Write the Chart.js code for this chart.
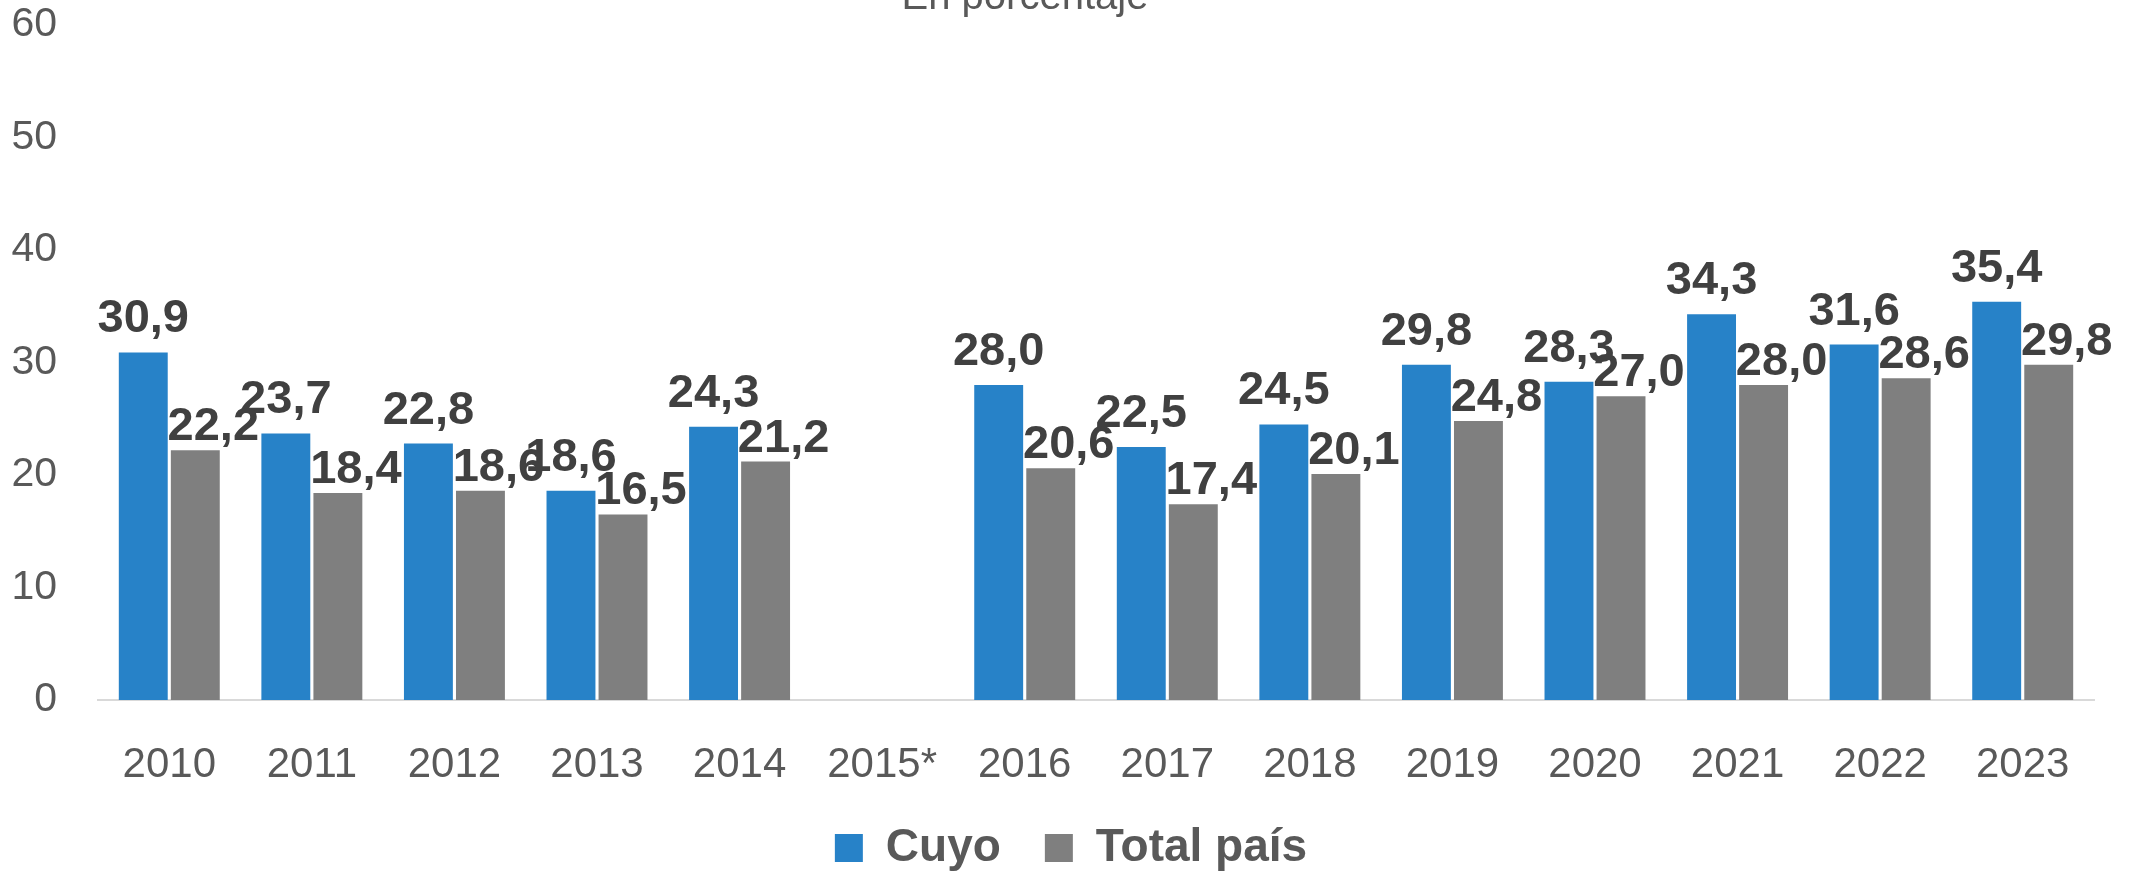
<!DOCTYPE html>
<html>
<head>
<meta charset="utf-8">
<script src="https://cdn.jsdelivr.net/npm/chart.js@4.4.1/dist/chart.umd.min.js"></script>
<style>
    html, body { margin: 0; padding: 0; background: #fff; overflow: hidden; }
    #wrap { position: relative; width: 2143px; height: 881px; }
</style>
</head>
<body>
<div id="wrap"><canvas id="cuyoChart"></canvas></div>
<script>
// data
const years = ['2010', '2011', '2012', '2013', '2014', '2015*', '2016', '2017', '2018', '2019', '2020', '2021', '2022', '2023'];
const cuyo = [30.9, 23.7, 22.8, 18.6, 24.3, null, 28.0, 22.5, 24.5, 29.8, 28.3, 34.3, 31.6, 35.4];
const totalPais = [22.2, 18.4, 18.6, 16.5, 21.2, null, 20.6, 17.4, 20.1, 24.8, 27.0, 28.0, 28.6, 29.8];
const yMin = 0;
const yMax = 60;
const yStep = 10;

const FONT = '"Liberation Sans", Arial, sans-serif';

// subtitle, mostly cut off at the top edge like in the original
const subtitle = {
    id: 'subtitle',
    afterDraw(chart) {
        const ctx = chart.ctx;
        ctx.save();
        ctx.font = '40px ' + FONT;
        ctx.fillStyle = '#595959';
        ctx.textAlign = 'center';
        ctx.textBaseline = 'alphabetic';
        ctx.fillText('En porcentaje', 1025, 9);
        ctx.restore();
    }
};

// nudge the legend a bit right so it sits centred on the whole canvas
const legendShift = {
    id: 'legendShift',
    afterLayout(chart) {
        if (chart.legend) {
            chart.legend.left += 24;
            chart.legend.right += 24;
        }
    }
};

// value labels above bars, comma decimals
const valueLabels = {
    id: 'valueLabels',
    afterDatasetsDraw(chart) {
        const ctx = chart.ctx;
        ctx.save();
        ctx.font = 'bold 47px ' + FONT;
        ctx.fillStyle = '#404040';
        ctx.textAlign = 'center';
        ctx.textBaseline = 'alphabetic';
        chart.data.datasets.forEach((ds, i) => {
            const meta = chart.getDatasetMeta(i);
            meta.data.forEach((bar, j) => {
                const v = ds.data[j];
                if (v == null) return;
                const dx = i === 0 ? 0 : 18;
                const gap = i === 0 ? 20 : 10;
                ctx.fillText(v.toFixed(1).replace('.', ','), bar.x + dx, bar.y - gap);
            });
        });
        ctx.restore();
    }
};

const ctx = document.getElementById('cuyoChart').getContext('2d');
const cuyoChart = new Chart(ctx, {
    type: 'bar',
    data: {
        labels: years,
        datasets: [{
            label: 'Cuyo',
            data: cuyo,
            backgroundColor: '#2782C8',
            categoryPercentage: 0.73,
            barPercentage: 0.94
        }, {
            label: 'Total país',
            data: totalPais,
            backgroundColor: '#7F7F7F',
            categoryPercentage: 0.73,
            barPercentage: 0.94
        }]
    },
    options: {
        responsive: true,
        maintainAspectRatio: false,
        animation: false,
        devicePixelRatio: 1,
        layout: {
            padding: { top: 25, right: 49, left: 0, bottom: 0 }
        },
        plugins: {
            legend: {
                position: 'bottom',
                labels: {
                    boxWidth: 28,
                    boxHeight: 28,
                    padding: 44,
                    color: '#595959',
                    font: { family: FONT, size: 46, weight: 'bold' }
                }
            },
            tooltip: { enabled: false },
            title: { display: false }
        },
        scales: {
            x: {
                grid: { display: false, drawTicks: false },
                border: { display: true, color: '#D9D9D9', width: 2 },
                ticks: {
                    color: '#595959',
                    padding: 40,
                    maxRotation: 0,
                    autoSkip: false,
                    font: { family: FONT, size: 42 }
                },
                afterFit: function(scale) {
                    scale.height = 81;
                }
            },
            y: {
                min: yMin,
                max: yMax,
                grid: { display: false, drawTicks: false },
                border: { display: false },
                ticks: {
                    stepSize: yStep,
                    color: '#595959',
                    padding: 41,
                    font: { family: FONT, size: 41 }
                },
                afterFit: function(scale) {
                    scale.width = 98;
                    scale.paddingTop = 0;
                    scale.paddingBottom = 0;
                }
            }
        }
    },
    plugins: [valueLabels, subtitle, legendShift]
});
</script>
</body>
</html>
